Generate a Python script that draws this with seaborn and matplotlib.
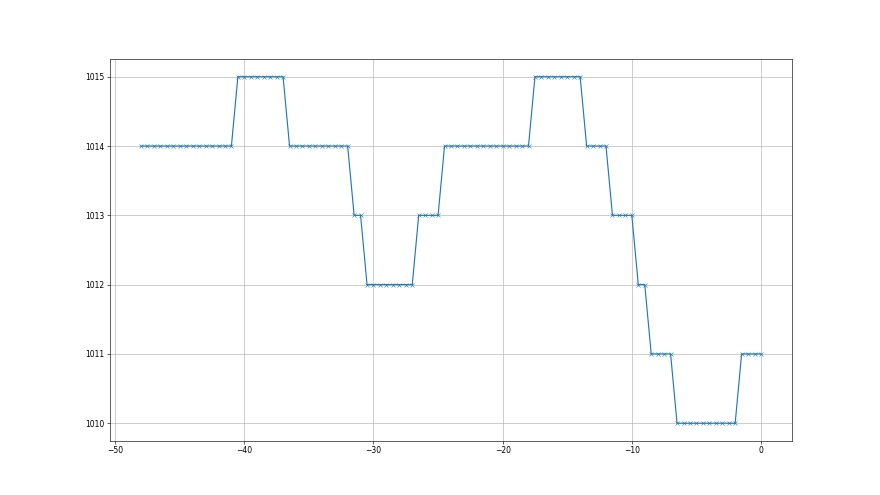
import numpy as np
import pandas as pd
import matplotlib
matplotlib.use('Agg')
import matplotlib.pyplot as plt
import seaborn as sns

# Time offsets (half-hour steps) and pressure readings
hours = np.arange(-48, 0.5, 0.5)
pressure = [
    1014, 1014, 1014, 1014, 1014, 1014, 1014, 1014, 1014, 1014, 1014, 1014, 1014, 1014, 1014,
    1015, 1015, 1015, 1015, 1015, 1015, 1015, 1015,
    1014, 1014, 1014, 1014, 1014, 1014, 1014, 1014, 1014, 1014,
    1013, 1013,
    1012, 1012, 1012, 1012, 1012, 1012, 1012, 1012,
    1013, 1013, 1013, 1013,
    1014, 1014, 1014, 1014, 1014, 1014, 1014, 1014, 1014, 1014, 1014, 1014, 1014, 1014,
    1015, 1015, 1015, 1015, 1015, 1015, 1015, 1015,
    1014, 1014, 1014, 1014,
    1013, 1013, 1013, 1013,
    1012, 1012,
    1011, 1011, 1011, 1011,
    1010, 1010, 1010, 1010, 1010, 1010, 1010, 1010, 1010, 1010,
    1011, 1011, 1011, 1011,
]

df = pd.DataFrame({'hours': hours, 'pressure': pressure})

fig, ax = plt.subplots(figsize=(16, 9), dpi=55)
sns.lineplot(data=df, x='hours', y='pressure', marker='x', color='C0',
             markeredgecolor='C0', ax=ax)
ax.grid(True, color='#b0b0b0', linewidth=0.8)
ax.set_xlabel('')
ax.set_ylabel('')
ax.set_yticks([1010, 1011, 1012, 1013, 1014, 1015])
ax.set_xticks([-50, -40, -30, -20, -10, 0])

fig.savefig('out.png', dpi=55)
